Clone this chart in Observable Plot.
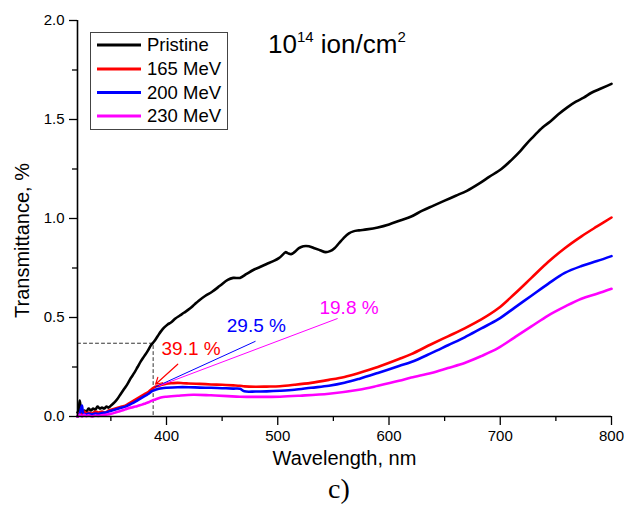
<!DOCTYPE html>
<html><head><meta charset="utf-8">
<script src="https://cdn.jsdelivr.net/npm/d3@7"></script>
<script src="https://cdn.jsdelivr.net/npm/@observablehq/plot@0.6"></script>
<style>
body{margin:0;background:#fff;font-family:"Liberation Sans",Arial,sans-serif;}
#wrap{position:relative;width:624px;height:515px;overflow:hidden;}
#caption{position:absolute;left:328px;top:474px;line-height:30px;font-family:"Liberation Serif","Times New Roman",serif;font-size:28px;color:#000;}
</style></head><body>
<div id="wrap"><div id="chart"></div><div id="caption">c)</div></div>
<script>
// ---- data ----
const seriesNames = ["Pristine", "165 MeV", "200 MeV", "230 MeV"];
const seriesColors = ["#000000", "#ff0000", "#0000ff", "#ff00ff"];

const pristineWl = [320,321,322,323,324,326,328,330,332,334,336,338,340,342,344,346,348,350,353,356,359,362,365,368,371,374,377,380,383,386,389,392,395,398,401,404,408,412,416,421,425,429,435,441,448,455,460,466,472,478,484,490,496,501,505,507,509,512,515,519,523,528,533,538,543,547,551,555,559,564,568,573,580,590,600,610,620,630,640,650,660,670,682,690,701,710,718,724,730,738,745,752,760,768,775,782,790,796,800];
const pristineT = [0.02,0.03,0.08,0.04,0.02,0.03,0.025,0.04,0.03,0.04,0.035,0.05,0.04,0.045,0.04,0.05,0.045,0.055,0.07,0.09,0.115,0.14,0.165,0.195,0.22,0.25,0.28,0.305,0.33,0.36,0.38,0.405,0.43,0.45,0.465,0.475,0.495,0.51,0.525,0.545,0.565,0.585,0.61,0.63,0.66,0.69,0.70,0.70,0.72,0.74,0.755,0.77,0.785,0.80,0.82,0.83,0.825,0.82,0.83,0.85,0.86,0.86,0.85,0.84,0.83,0.835,0.85,0.875,0.90,0.925,0.935,0.94,0.945,0.955,0.97,0.99,1.01,1.04,1.065,1.09,1.115,1.14,1.18,1.21,1.25,1.295,1.34,1.38,1.415,1.46,1.49,1.525,1.56,1.59,1.61,1.635,1.655,1.67,1.68];

const mev165Wl = [320,322,324,326,328,330,333,336,339,342,345,348,351,354,357,360,363,366,369,372,375,378,381,384,387,390,393,396,400,405,410,415,420,430,440,450,460,466,470,480,490,502,515,530,546,560,573,590,609,620,638,653,668,683,698,713,728,743,758,773,787,800];
const mev165T = [0.0,0.02,0.01,0.025,0.015,0.02,0.015,0.025,0.02,0.025,0.02,0.03,0.035,0.04,0.045,0.05,0.055,0.065,0.075,0.085,0.095,0.105,0.115,0.125,0.14,0.15,0.155,0.16,0.165,0.168,0.17,0.168,0.167,0.165,0.162,0.16,0.157,0.155,0.152,0.15,0.151,0.153,0.16,0.17,0.185,0.2,0.22,0.25,0.29,0.315,0.365,0.405,0.445,0.49,0.545,0.62,0.70,0.78,0.85,0.91,0.96,1.005];

const mev200Wl = [320,322,324,325,327,330,333,336,339,342,345,348,351,354,357,360,363,366,369,372,375,378,381,384,387,390,393,396,400,410,420,430,440,450,460,466,470,480,490,502,515,530,546,560,573,590,609,620,638,653,668,683,698,713,728,743,758,773,787,800];
const mev200T = [0.0,0.015,0.055,0.02,0.01,0.015,0.01,0.015,0.012,0.018,0.02,0.025,0.03,0.035,0.04,0.045,0.05,0.058,0.066,0.075,0.085,0.095,0.105,0.115,0.128,0.135,0.14,0.143,0.145,0.148,0.148,0.146,0.145,0.143,0.141,0.14,0.127,0.126,0.127,0.13,0.135,0.145,0.155,0.17,0.19,0.22,0.255,0.275,0.32,0.36,0.40,0.445,0.49,0.55,0.61,0.67,0.725,0.76,0.785,0.81];

const mev230Wl = [320,322,324,326,328,330,333,336,339,342,345,348,351,354,357,360,363,366,369,372,375,378,381,384,387,390,393,396,400,410,424,440,455,466,480,502,520,546,573,590,609,620,638,653,668,683,698,713,728,743,758,773,787,800];
const mev230T = [0.0,0.01,0.0,0.008,0.002,0.006,0.0,0.005,0.003,0.006,0.008,0.012,0.015,0.02,0.025,0.03,0.036,0.042,0.046,0.05,0.055,0.06,0.066,0.072,0.08,0.086,0.092,0.097,0.10,0.105,0.11,0.107,0.103,0.10,0.099,0.10,0.105,0.115,0.135,0.155,0.18,0.197,0.22,0.245,0.27,0.305,0.345,0.40,0.455,0.51,0.555,0.595,0.62,0.645];

// guide (dashed) at the absorption edge
const guideWl = [320, 388, 388];
const guideT = [0.37, 0.37, 0];

// annotations: label, colour, text position, line start, line end
const annLabels = ["39.1 %", "29.5 %", "19.8 %"];
const annColors = ["#ff0000", "#0000ff", "#ff00ff"];
const annTextWl = [395.5, 454.2, 537.5];
const annTextT = [0.341, 0.458, 0.55];
const annFromWl = [410.1, 480, 553.8];
const annFromT = [0.264, 0.38, 0.495];
const annToWl = [390.2, 390, 393];
const annToT = [0.163, 0.149, 0.154];

const xMajor = [400, 500, 600, 700, 800];
const xMinor = [350, 450, 550, 650, 750];
const yMajor = [0, 0.5, 1.0, 1.5, 2.0];
const yMinor = [0.25, 0.75, 1.25, 1.75];

// ---- build tables ----
const seriesWl = [pristineWl, mev165Wl, mev200Wl, mev230Wl];
const seriesT = [pristineT, mev165T, mev200T, mev230T];
const data = [];
seriesNames.forEach((name, i) => {
  seriesWl[i].forEach((w, j) => data.push({series: name, w, t: seriesT[i][j]}));
});
const guide = guideWl.map((w, i) => ({w, t: guideT[i]}));
const ann = annLabels.map((label, i) => ({
  label, color: annColors[i], tw: annTextWl[i], tt: annTextT[i],
  x1: annFromWl[i], y1: annFromT[i], x2: annToWl[i], y2: annToT[i]
}));

const plot = Plot.plot({
  width: 624,
  height: 474,
  marginLeft: 77,
  marginRight: 13,
  marginTop: 20,
  marginBottom: 58,
  style: {fontFamily: "Liberation Sans, Arial, sans-serif", fontSize: "15px", color: "#000", background: "#fff"},
  x: {domain: [320, 800]},
  y: {domain: [0, 2]},
  color: {domain: seriesNames, range: seriesColors},
  marks: [
    Plot.line(guide, {x: "w", y: "t", stroke: "#333", strokeWidth: 1, strokeDasharray: "3,3"}),
    Plot.line(data, {x: "w", y: "t", z: "series", stroke: "series", strokeWidth: 2.6, curve: "catmull-rom"}),
    Plot.link(ann.slice(1), {x1: "x1", y1: "y1", x2: "x2", y2: "y2", stroke: "color", strokeWidth: 1}),
    Plot.arrow(ann.slice(0, 1), {x1: "x1", y1: "y1", x2: "x2", y2: "y2", stroke: "color", strokeWidth: 1.2, headLength: 9}),
    Plot.text(ann, {x: "tw", y: "tt", text: "label", fill: "color", textAnchor: "start", fontSize: 19}),
    Plot.axisX(xMajor, {tickSize: 9, tickPadding: 5, tickFormat: d => String(d), label: null, fontSize: 15, strokeWidth: 1.3}),
    Plot.axisX(xMinor, {tickSize: 5, tickFormat: () => "", label: null, strokeWidth: 1.3}),
    Plot.axisY(yMajor, {tickSize: 8, tickPadding: 5, tickFormat: d3.format(".1f"), label: null, fontSize: 15, strokeWidth: 1.3}),
    Plot.axisY(yMinor, {tickSize: 5, tickFormat: () => "", label: null, strokeWidth: 1.3}),
    Plot.ruleY([0], {strokeWidth: 1.6}),
    Plot.ruleX([320], {strokeWidth: 1.6}),
    Plot.text(["Wavelength, nm"], {frameAnchor: "bottom", dy: 48, fontSize: 20}),
    Plot.text(["Transmittance, %"], {frameAnchor: "left", textAnchor: "middle", rotate: -90, dx: -55, dy: 22, fontSize: 20})
  ]
});
document.getElementById("chart").appendChild(plot);

// ---- title with superscripts ----
const svg = d3.select(plot);
const title = svg.append("text")
  .attr("x", 268).attr("y", 52.5)
  .attr("text-anchor", "start")
  .attr("font-family", "Liberation Sans, Arial, sans-serif")
  .attr("font-size", 26).attr("fill", "#000");
title.append("tspan").text("10");
title.append("tspan").attr("dy", -11).attr("font-size", 15).text("14");
title.append("tspan").attr("dy", 11).text(" ion/cm");
title.append("tspan").attr("dy", -11).attr("font-size", 15).text("2");

// ---- legend box ----
const lg = svg.append("g").attr("text-anchor", "start")
  .attr("font-family", "Liberation Sans, Arial, sans-serif").attr("font-size", 18.5);
lg.append("rect").attr("x", 90.5).attr("y", 32.5).attr("width", 137).attr("height", 97)
  .attr("fill", "#fff").attr("stroke", "#444").attr("stroke-width", 1);
const rowY = [45, 69, 92.5, 116];
seriesNames.forEach((name, i) => {
  lg.append("line").attr("x1", 97).attr("x2", 141).attr("y1", rowY[i]).attr("y2", rowY[i])
    .attr("stroke", seriesColors[i]).attr("stroke-width", 3);
  lg.append("text").attr("x", 147).attr("y", rowY[i]).attr("dy", "0.35em").attr("fill", "#000").text(name);
});
</script>
</body></html>
